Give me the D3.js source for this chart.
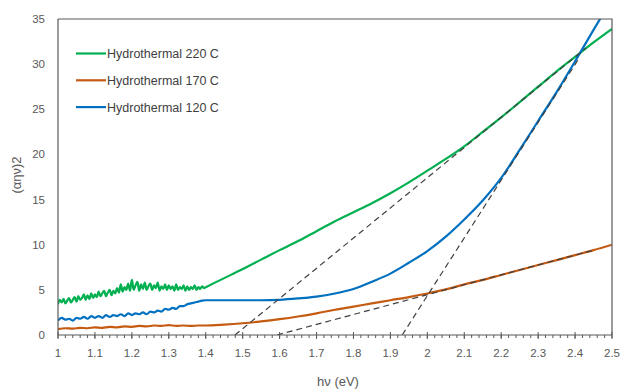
<!DOCTYPE html>
<html>
<head>
<meta charset="utf-8">
<script src="https://cdn.jsdelivr.net/npm/d3@7"></script>
<style>
  body { margin: 0; background: #fff; }
  svg { font-family: "Liberation Sans", Arial, sans-serif; }
</style>
</head>
<body>
<div id="chart"></div>
<script>
// noisy part (1.00 - 1.40 eV)
const green220Noisy = [3.4,3.9,3.6,4.0,3.5,3.8,4.1,3.6,3.9,4.2,
  3.7,4.3,3.9,4.1,4.5,3.9,4.4,4.0,4.6,4.1,
  4.5,4.2,4.8,4.3,4.6,4.9,4.3,4.7,5.0,4.4,
  4.9,4.6,5.2,4.7,5.6,4.8,5.3,5.0,5.7,4.9,
  6.1,5.0,5.5,5.9,4.9,5.6,5.1,5.8,5.0,5.4,
  5.7,5.0,5.5,5.2,5.8,4.9,5.4,5.1,5.6,5.0,
  5.5,5.1,5.4,4.9,5.6,5.0,5.3,5.1,5.5,4.9,
  5.4,5.0,5.3,5.1,5.5,5.0,5.3,5.1,5.4,5.2,
  5.3]  // step 0.005
const blue120Noisy = [1.6,1.9,1.7,1.8,1.6,1.9,1.8,2.0,1.8,2.1,
  1.9,2.1,1.9,2.2,2.0,2.2,2.1,2.3,2.1,2.4,
  2.2,2.4,2.3,2.5,2.3,2.6,2.5,2.7,2.6,2.9,
  2.8,3.0,2.9,3.2,3.2,3.4,3.5,3.6,3.7,3.8,3.85]  // step 0.01
const orange170Noisy = [0.65,0.75,0.7,0.8,0.75,0.85,0.8,0.9,0.85,0.95,
  0.9,1.0,0.95,1.05,1.0,1.1,1.0,1.05,1.0,1.05,1.05]  // step 0.02

// smooth part, 1.40 - 2.50 eV every 0.05
const smoothX = [1.40,1.45,1.50,1.55,1.60,1.65,1.70,1.75,1.80,1.85,1.90,1.95,
  2.00,2.05,2.10,2.15,2.20,2.25,2.30,2.35,2.40,2.45,2.50]
const green220 = [5.3,6.3,7.3,8.35,9.4,10.4,11.5,12.6,13.6,14.6,15.7,16.9,
  18.2,19.5,20.9,22.5,24.1,25.8,27.5,29.2,30.8,32.4,33.9]
const orange170 = [1.05,1.15,1.3,1.5,1.75,2.05,2.4,2.8,3.15,3.5,3.85,4.2,
  4.6,5.05,5.6,6.1,6.65,7.2,7.75,8.3,8.85,9.4,10.0]
const blue120 = [3.85,3.85,3.85,3.85,3.9,4.05,4.25,4.6,5.1,5.9,6.8,8.0,
  9.3,10.9,12.8,14.9,17.4,20.5,23.7,26.9,30.3,33.8,37.2]

// dashed tangent lines [start, end]
const tangents = [
  [[1.479, 0], [2.43, 31.8]],
  [[1.593, 0], [2.45, 9.4]],
  [[1.932, 0], [2.41, 30.6]]
]

const seriesNames = ['Hydrothermal 220 C', 'Hydrothermal 170 C', 'Hydrothermal 120 C']
const seriesColors = ['#00b050', '#c55a11', '#0070c0']
const xTicks = [1,1.1,1.2,1.3,1.4,1.5,1.6,1.7,1.8,1.9,2,2.1,2.2,2.3,2.4,2.5]
const yTicks = [0,5,10,15,20,25,30,35]

const MARGIN = {TOP: 19, BOTTOM: 54, LEFT: 58, RIGHT: 9}
const W = 621 - MARGIN.LEFT - MARGIN.RIGHT
const H = 389 - MARGIN.TOP - MARGIN.BOTTOM

function build(noisy, step, smooth) {
  const pts = noisy.map((v, i) => [1 + i * step, v])
  smoothX.forEach((x, i) => { if (i > 0) pts.push([x, smooth[i]]) })
  return pts
}
const data = [
  build(green220Noisy, 0.005, green220),
  build(orange170Noisy, 0.02, orange170),
  build(blue120Noisy, 0.01, blue120)
]

const svg = d3.select('#chart').append('svg')
  .attr('width', 621).attr('height', 389)
const g = svg.append('g').attr('transform', `translate(${MARGIN.LEFT},${MARGIN.TOP})`)

const x = d3.scaleLinear().domain([1, 2.5]).range([0, W])
const y = d3.scaleLinear().domain([0, 35]).range([H, 0])

g.append('defs').append('clipPath').attr('id', 'clip')
  .append('rect').attr('width', W).attr('height', H)

const line = d3.line().x(d => x(d[0])).y(d => y(d[1]))
const curve = d3.line().x(d => x(d[0])).y(d => y(d[1])).curve(d3.curveMonotoneX)

// curves
const plot = g.append('g').attr('clip-path', 'url(#clip)')
plot.selectAll('path.series')
  .data(data)
  .enter().append('path')
  .attr('class', 'series')
  .attr('d', curve)
  .attr('fill', 'none')
  .attr('stroke', (d, i) => seriesColors[i])
  .attr('stroke-width', 2.2)
  .attr('stroke-linejoin', 'round')

plot.selectAll('path.tangent')
  .data(tangents)
  .enter().append('path')
  .attr('class', 'tangent')
  .attr('d', line)
  .attr('fill', 'none')
  .attr('stroke', '#404040')
  .attr('stroke-width', 1.2)
  .attr('stroke-dasharray', '6,4')

// frame
g.append('path')
  .attr('d', `M0,0H${W}V${H}`)
  .attr('fill', 'none').attr('stroke', '#595959').attr('stroke-width', 1.2)
g.append('line').attr('x1', 0).attr('x2', 0).attr('y1', 0).attr('y2', H)
  .attr('stroke', '#595959').attr('stroke-width', 1.2)

// x axis, majors cross the line, minors hang below
const xAxis = g.append('g').attr('transform', `translate(0,${H})`)
xAxis.append('line').attr('x1', 0).attr('x2', W)
  .attr('stroke', '#595959').attr('stroke-width', 1.2)
xAxis.selectAll('line.minor')
  .data(d3.range(1, 2.5001, 0.02))
  .enter().append('line')
  .attr('class', 'minor')
  .attr('x1', d => x(d)).attr('x2', d => x(d))
  .attr('y1', 0).attr('y2', 3)
  .attr('stroke', '#595959')
xAxis.selectAll('line.major')
  .data(xTicks)
  .enter().append('line')
  .attr('class', 'major')
  .attr('x1', d => x(d)).attr('x2', d => x(d))
  .attr('y1', -3).attr('y2', 4)
  .attr('stroke', '#595959')
xAxis.selectAll('text')
  .data(xTicks)
  .enter().append('text')
  .attr('x', d => x(d)).attr('y', 22)
  .attr('text-anchor', 'middle')
  .attr('font-size', 11.5).attr('fill', '#595959')
  .text(d => d)

// y axis labels
g.selectAll('text.ylab')
  .data(yTicks)
  .enter().append('text')
  .attr('class', 'ylab')
  .attr('x', -13).attr('y', d => y(d) + 4)
  .attr('text-anchor', 'end')
  .attr('font-size', 11.5).attr('fill', '#595959')
  .text(d => d)

// axis titles
svg.append('text')
  .attr('x', 338).attr('y', 386)
  .attr('text-anchor', 'middle')
  .attr('font-size', 13).attr('fill', '#595959')
  .text('hν (eV)')
svg.append('text')
  .attr('transform', 'translate(21,175) rotate(-90)')
  .attr('text-anchor', 'middle')
  .attr('font-size', 13).attr('fill', '#595959')
  .text('(αην)2')

// legend
const legend = svg.append('g')
seriesNames.forEach((name, i) => {
  const ly = 53.5 + i * 26.8
  legend.append('line')
    .attr('x1', 76).attr('x2', 106).attr('y1', ly).attr('y2', ly)
    .attr('stroke', seriesColors[i]).attr('stroke-width', 2.2)
  legend.append('text')
    .attr('x', 107).attr('y', ly + 4.5)
    .attr('font-size', 12.5).attr('fill', '#404040')
    .text(name)
})
</script>
</body>
</html>
